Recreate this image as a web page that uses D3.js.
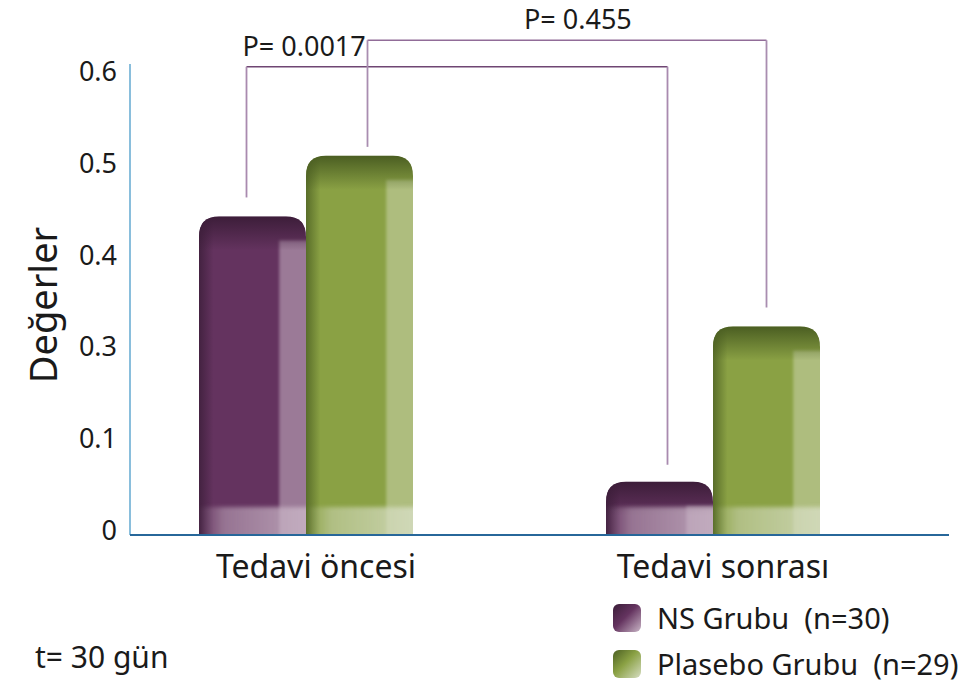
<!DOCTYPE html>
<html>
<head>
<meta charset="utf-8">
<script src="https://cdn.jsdelivr.net/npm/d3@7"></script>
<style>
  body { margin: 0; background: #fff; }
  svg { display: block; font-family: "Noto Sans", "Open Sans", sans-serif; }
</style>
</head>
<body>
<div id="chart"></div>
<script>
// data
const categories = ['Tedavi öncesi', 'Tedavi sonrası']
const seriesNames = ['NS Grubu', 'Plasebo Grubu']
const legendLabels = ['NS Grubu  (n=30)', 'Plasebo Grubu  (n=29)']
const nsValues = [0.447, 0.058]
const plaseboValues = [0.513, 0.327]
// tick labels as printed (the "0.2" row is labelled 0.1 in the original)
const tickValues = [0, 0.1, 0.3, 0.4, 0.5, 0.6]
const tickLabels = ['0', '0.1', '0.3', '0.4', '0.5', '0.6']
const pValues = ['P= 0.0017', 'P= 0.455']

const W = 975, H = 686

const svg = d3.select('#chart').append('svg')
    .attr('width', W)
    .attr('height', H)

// scales
const x0 = d3.scalePoint().domain(categories).range([306, 713])
const x1 = d3.scaleBand().domain(seriesNames).range([-107, 107]).padding(0)
const y = d3.scaleLinear()
    .domain(tickValues)
    .range(tickValues.map((d, i) => 535 - i * 91.8))

const palette = {
    'NS Grubu': { base: '#64335f', dark: '#3a1d38', top: '#3a1c37', light: '#9b7a97', glow: '#c9b5c6' },
    'Plasebo Grubu': { base: '#8aa144', dark: '#4b5f22', top: '#475a20', light: '#aebd7e', glow: '#d6ddc2' }
}

const defs = svg.append('defs')
seriesNames.forEach((s, i) => {
    const c = palette[s]
    // dark left edge
    const gh = defs.append('linearGradient').attr('id', `gh${i}`)
        .attr('x1', 0).attr('x2', 1).attr('y1', 0).attr('y2', 0)
    ;[[0, c.dark, 1], [0.16, c.dark, 0]]
        .forEach(([o, col, op]) => gh.append('stop').attr('offset', o).attr('stop-color', col).attr('stop-opacity', op))
    // top darkening
    const gv = defs.append('linearGradient').attr('id', `gv${i}`)
        .attr('x1', 0).attr('x2', 0).attr('y1', 0).attr('y2', 1)
    gv.append('stop').attr('offset', 0).attr('stop-color', c.top).attr('stop-opacity', 1)
    gv.append('stop').attr('offset', 0.4).attr('stop-color', c.top).attr('stop-opacity', 0.6)
    gv.append('stop').attr('offset', 1).attr('stop-color', c.top).attr('stop-opacity', 0)
    // bottom glow
    const gb = defs.append('linearGradient').attr('id', `gb${i}`)
        .attr('x1', 0).attr('x2', 1).attr('y1', 0).attr('y2', 0)
    gb.append('stop').attr('offset', 0).attr('stop-color', c.glow).attr('stop-opacity', 0)
    gb.append('stop').attr('offset', 0.22).attr('stop-color', c.glow).attr('stop-opacity', 0.5)
    gb.append('stop').attr('offset', 1).attr('stop-color', c.glow).attr('stop-opacity', 0.85)
    // legend swatch
    const gl = defs.append('linearGradient').attr('id', `gl${i}`)
        .attr('x1', 0).attr('x2', 1).attr('y1', 0).attr('y2', 1)
    gl.append('stop').attr('offset', 0).attr('stop-color', c.dark)
    gl.append('stop').attr('offset', 0.45).attr('stop-color', c.base)
    gl.append('stop').attr('offset', 1).attr('stop-color', c.glow)
})

const bars = []
categories.forEach((cat, ci) => {
    bars.push({ cat, s: seriesNames[0], si: 0, v: nsValues[ci] })
    bars.push({ cat, s: seriesNames[1], si: 1, v: plaseboValues[ci] })
})

function topRounded(x, yTop, w, yBot, r) {
    return `M${x},${yBot} V${yTop + r} Q${x},${yTop} ${x + r},${yTop} H${x + w - r} Q${x + w},${yTop} ${x + w},${yTop + r} V${yBot} Z`
}

const barG = svg.append('g')
bars.forEach((d, i) => {
    const c = palette[d.s]
    const bx = x0(d.cat) + x1(d.s), bw = x1.bandwidth()
    const yt = y(d.v), yb = y(0)
    const path = topRounded(bx, yt, bw, yb, 20)
    defs.append('clipPath').attr('id', `clip${i}`).append('path').attr('d', path)
    const g = barG.append('g').attr('clip-path', `url(#clip${i})`)
    g.append('path').attr('d', path).attr('fill', c.base)
    // light strip on the right
    g.append('rect').attr('x', bx + bw * 0.75).attr('y', yt + 24).attr('width', bw * 0.4).attr('height', yb - yt)
        .attr('fill', c.light).style('filter', 'blur(1.5px)')
    g.append('rect').attr('x', bx - 4).attr('y', yt).attr('width', bw + 8).attr('height', yb - yt)
        .attr('fill', `url(#gh${d.si})`)
    g.append('rect').attr('x', bx - 4).attr('y', yt - 2).attr('width', bw + 8).attr('height', 36)
        .attr('fill', `url(#gv${d.si})`)
    g.append('rect').attr('x', bx).attr('y', yb - 28).attr('width', bw + 6).attr('height', 40)
        .attr('fill', `url(#gb${d.si})`)
        .style('filter', 'blur(2px)')
    g.append('title').text(`${d.s}: ${d.v}`)
})

// axes
svg.append('line').attr('x1', 130).attr('x2', 130).attr('y1', 64).attr('y2', y(0))
    .attr('stroke', '#4b9bc9').attr('stroke-width', 1.3)
svg.append('line').attr('x1', 130).attr('x2', 949).attr('y1', y(0)).attr('y2', y(0))
    .attr('stroke', '#27679a').attr('stroke-width', 1.8)

svg.append('g').selectAll('text')
    .data(tickValues)
    .join('text')
    .attr('x', 117)
    .attr('y', (d) => y(d) + 5)
    .attr('text-anchor', 'end')
    .attr('font-size', 27)
    .attr('fill', '#1a1a1a')
    .text((d, i) => tickLabels[i])

svg.append('text')
    .attr('transform', 'translate(57,305) rotate(-90)')
    .attr('text-anchor', 'middle')
    .attr('font-size', 38)
    .attr('fill', '#1a1a1a')
    .text('Değerler')

svg.append('g').selectAll('text')
    .data(categories)
    .join('text')
    .attr('x', (d) => x0(d) + 10)
    .attr('y', 578)
    .attr('text-anchor', 'middle')
    .attr('font-size', 32)
    .attr('fill', '#1a1a1a')
    .text((d) => d)

// significance brackets
const brackets = [
    { from: [categories[0], seriesNames[0]], to: [categories[1], seriesNames[0]], level: 0.61,
      gaps: [19, 17], shift: [-6, 8], h: '#6f4673', v: '#a98aaf', dx: -4 },
    { from: [categories[0], seriesNames[1]], to: [categories[1], seriesNames[1]], level: 0.639,
      gaps: [9, 19], shift: [8, 0], h: '#916c98', v: '#a98db0', dx: 523 - 566 }
]
brackets.forEach((b, i) => {
    const vals = [b.from, b.to].map(([c, s]) => (s === seriesNames[0] ? nsValues : plaseboValues)[categories.indexOf(c)])
    const xs = [b.from, b.to].map(([c, s], k) => x0(c) + x1(s) + x1.bandwidth() / 2 + b.shift[k])
    const yl = y(b.level)
    svg.append('line').attr('x1', xs[0]).attr('x2', xs[1]).attr('y1', yl).attr('y2', yl)
        .attr('stroke', b.h).attr('stroke-width', 1.5)
    xs.forEach((xx, k) => {
        svg.append('line').attr('x1', xx).attr('x2', xx).attr('y1', yl).attr('y2', y(vals[k]) - b.gaps[k])
            .attr('stroke', b.v).attr('stroke-width', 1.8)
    })
    svg.append('text')
        .attr('x', i === 0 ? xs[0] + b.dx : (xs[0] + xs[1]) / 2 + b.dx)
        .attr('y', yl - 11)
        .attr('font-size', 27)
        .attr('fill', '#1a1a1a')
        .text(pValues[i])
})

// legend
const legend = svg.append('g').selectAll('g')
    .data(seriesNames)
    .join('g')
    .attr('transform', (d, i) => `translate(613,${604 + i * 46})`)
legend.append('rect')
    .attr('width', 28).attr('height', 28).attr('rx', 6)
    .attr('fill', (d, i) => `url(#gl${i})`)
legend.append('text')
    .attr('x', 44).attr('y', 25)
    .attr('font-size', 29)
    .attr('fill', '#1a1a1a')
    .style('white-space', 'pre')
    .text((d, i) => legendLabels[i])

svg.append('text')
    .attr('x', 35).attr('y', 668)
    .attr('font-size', 30)
    .attr('fill', '#1a1a1a')
    .text('t= 30 gün')
</script>
</body>
</html>
